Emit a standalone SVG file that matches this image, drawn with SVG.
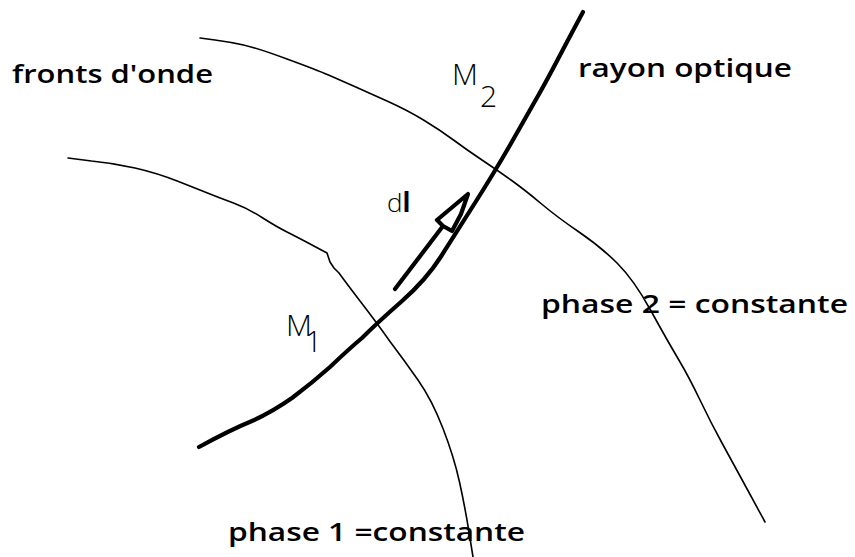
<svg xmlns="http://www.w3.org/2000/svg" width="855" height="557" viewBox="0 0 855 557">
<style>
.front{fill:none;stroke:#000;stroke-width:1.6;stroke-linejoin:round;stroke-linecap:round}
.ray{fill:none;stroke:#000;stroke-width:4.2;stroke-linejoin:round;stroke-linecap:round}
.lbl{font-family:"Open Sans","Liberation Sans",sans-serif;font-weight:600;font-size:25px;fill:#000}
.pt{font-family:"Open Sans","Liberation Sans",sans-serif;font-weight:300;font-size:30px;fill:#000}
</style>
<rect width="855" height="557" fill="#fff"/>
<g id="connectors">
<path id="front1" class="front" d="M68,158 L91.5,161 Q113,163 135,168 Q157,173 178.5,181.5 Q200,190 210,194 Q220,198 233.5,203 Q247,208 262,217.5 Q277,227 287,232 Q297,237 312,245 L327,253 L330,262 L334,268 L339,273 Q344,280 360,301 Q377,323 390,341.5 Q404,360 418,380 Q432,400 443,428.5 Q454,457 459.5,482 Q465,507 469,532 L473,557"/>
<path id="front2" class="front" d="M200,38 L215,40 Q230,42 243.5,45 Q257,48 287,59 Q317,70 328.5,75 Q340,80 353.5,86 Q367,92 387,101 Q407,110 423.5,120 Q440,130 453.5,140 Q467,150 482,160 Q497,170 511,180 Q525,190 541,203.5 Q557,217 579,232 Q601,247 617.5,263.5 Q634,280 650.5,310 Q667,340 678,358.5 Q689,377 700,400 Q711,423 722,443 Q733,463 749,492.5 L765,522"/>
<path id="ray" class="ray" d="M199,447 Q230,430 252,421 Q272,412 292,398 Q312,383 330,367 Q350,348 362,338 Q377,323 401.5,301.5 Q426,280 441,256.5 Q456,233 476.5,200.5 Q497,168 513.5,139 Q530,110 538.5,95 Q547,80 557.5,60 Q568,40 575.5,26 L583,12"/>
<path id="dl-arrow" class="ray" d="M395,289 L443,226 M443,226 L437,220 L468,194 L461,214 L452,231 Z"/>
</g>
<g id="labels">
<text class="lbl" x="12" y="83" textLength="201" lengthAdjust="spacingAndGlyphs">fronts d'onde</text>
<text class="lbl" x="578" y="77" textLength="214" lengthAdjust="spacingAndGlyphs">rayon optique</text>
<text class="lbl" x="541" y="313" textLength="307" lengthAdjust="spacingAndGlyphs">phase 2 = constante</text>
<text class="lbl" x="228" y="541" textLength="297" lengthAdjust="spacingAndGlyphs">phase 1 =constante</text>
</g>
<g id="M2"><text class="pt" x="452" y="85">M</text><text class="pt" x="480" y="107">2</text></g>
<g id="M1"><text class="pt" x="286" y="336">M</text><text class="pt" x="305" y="352">1</text></g>
<g id="dl"><text x="387" y="212" style="font-family:'Open Sans','Liberation Sans',sans-serif;font-size:26px;font-weight:300;fill:#000">d<tspan style="font-weight:bold">l</tspan></text></g>
</svg>
